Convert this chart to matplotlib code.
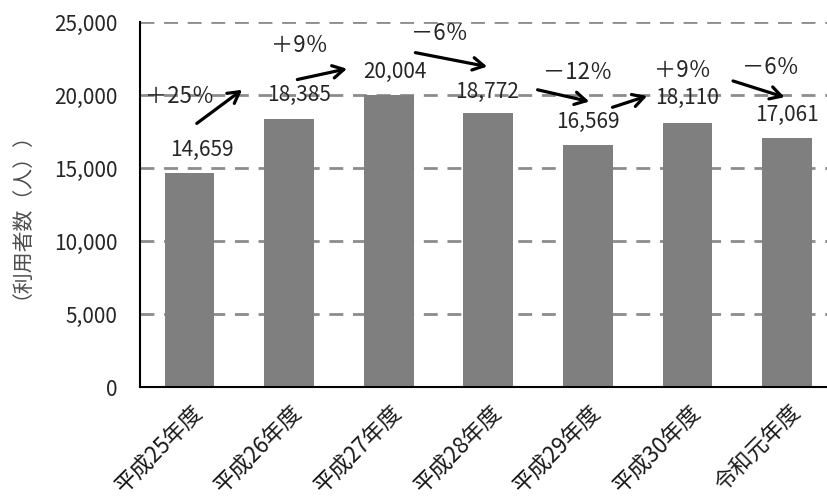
import matplotlib
matplotlib.use("Agg")
import matplotlib.pyplot as plt
from matplotlib.transforms import ScaledTranslation

plt.rcParams['font.family'] = ['Noto Sans CJK JP', 'DejaVu Sans']

# --- data
years = ['平成25年度', '平成26年度', '平成27年度', '平成28年度', '平成29年度', '平成30年度', '令和元年度']
users = [14659, 18385, 20004, 18772, 16569, 18110, 17061]
changes = ['＋25％', '＋9％', '－6％', '－12％', '＋9％', '－6％']

# --- label placement (data coords)
value_pos = [(0.12, 16250), (1.1, 20000), (2.06, 21600), (2.99, 20200),
             (4.0, 18150), (5.0, 19800), (6.0, 18630)]
change_pos = [(-0.1, 19930), (1.1, 23420), (2.51, 24250),
              (3.9, 21570), (4.95, 21710), (5.83, 21920)]
arrows = [((0.05, 17950), (0.55, 20480)),
          ((1.055, 21030), (1.608, 21850)),
          ((2.24, 22950), (3.015, 21920)),
          ((3.467, 20410), (4.04, 19520)),
          ((4.22, 19110), (4.62, 20000)),
          ((5.43, 21030), (6.0, 19800))]

fig = plt.figure(figsize=(8.27, 5.04), dpi=100)
ax = fig.add_axes([0.169, 0.232, 0.831, 0.724])

x = range(len(years))
ax.bar(x, users, width=0.5, color='#7f7f7f', zorder=2)

ax.set_ylim(0, 25000)
ax.set_xlim(-0.5, 6.4)
ax.set_yticks(range(0, 25001, 5000))
ax.set_yticklabels([f'{v:,}' for v in range(0, 25001, 5000)], fontsize=15, color='#262626')
ax.yaxis.grid(True, linestyle=(0, (5, 3.5)), color='#8c8c8c', linewidth=2, zorder=0)
ax.tick_params(axis='y', length=0, pad=16)
ax.tick_params(axis='x', length=0, pad=10)

ax.set_xticks(list(x))
ax.set_xticklabels(years, rotation=45, ha='right', rotation_mode='anchor', fontsize=16, color='#1a1a1a')
shift = ScaledTranslation(2 / 100, 0, fig.dpi_scale_trans)
for lab in ax.get_xticklabels():
    lab.set_transform(lab.get_transform() + shift)

for s in ['top', 'right']:
    ax.spines[s].set_visible(False)
ax.spines['left'].set_linewidth(1.5)
ax.spines['bottom'].set_linewidth(1.5)

ax.set_ylabel('（利用者数（人））', fontsize=15, color='#4d4d4d')
ax.yaxis.set_label_coords(-0.172, 0.5)

for (px, py), v in zip(value_pos, users):
    ax.text(px, py, f'{v:,}', ha='center', va='center', fontsize=15, color='#262626', zorder=4)

for (px, py), t in zip(change_pos, changes):
    ax.text(px, py, t, ha='center', va='center', fontsize=16, color='#262626', zorder=4)

for (x0, y0), (x1, y1) in arrows:
    ax.annotate('', xy=(x1, y1), xytext=(x0, y0),
                arrowprops=dict(arrowstyle='->,head_length=0.8,head_width=0.45', color='black', lw=2.3),
                zorder=5)

fig.savefig('out.png', dpi=100)
